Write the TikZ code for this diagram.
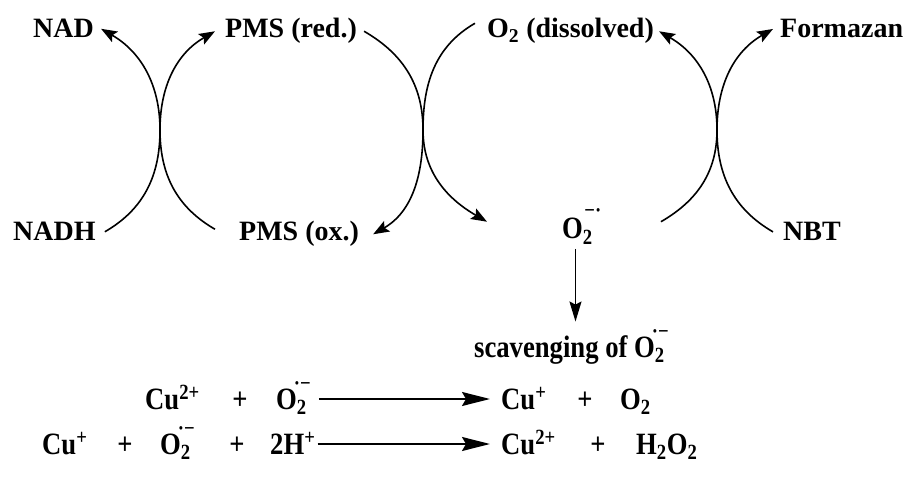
\documentclass[tikz,border=0pt]{standalone}
\usepackage{fontspec}
\setmainfont{Liberation Serif}
\newfontfamily\condfont{Liberation Serif}[FakeStretch=0.86]
\usetikzlibrary{arrows.meta}
% superoxide radical anion: O with stacked sub/superscript
\newcommand{\radO}[3]{O\rlap{\kern#1\raisebox{#2}{\textsuperscript{#3}}}\textsubscript{2}}

\begin{document}
\begin{tikzpicture}[x=1pt,y=-1pt,
    >={Stealth[length=16pt,width=12pt,inset=3pt]},
    every node/.style={font=\fontsize{28}{30}\selectfont\bfseries, inner sep=0pt},
    lbl/.style={anchor=base west},
    eq/.style={anchor=base west, font=\fontsize{31}{33}\selectfont\condfont\bfseries},
    pm/.style={eq, anchor=base},
    cyc/.style={->, line width=1.6pt},
    rxn/.style={-{Stealth[length=28pt,width=14pt,inset=4pt]}, line width=1.8pt}
  ]
  \useasboundingbox (0,0) rectangle (905,478);

  % top row
  \node[lbl] (nad)    at (33,38)  {NAD};
  \node[lbl] (pmsred) at (225,38) {PMS (red.)};
  \node[lbl] (o2d)    at (487,38) {O\textsubscript{2} (dissolved)};
  \node[lbl] (fz)     at (780,38) {Formazan};

  % bottom row
  \node[lbl] (nadh)  at (13,241)  {NADH};
  \node[lbl] (pmsox) at (239,241) {PMS (ox.)};
  \node[eq] (o2r)    at (562,239) {\radO{0.05em}{0.4em}{−·}};
  \node[lbl] (nbt)   at (783,241) {NBT};

  % crossing points
  \coordinate (xl) at (160,130);
  \coordinate (xm) at (423,130);
  \coordinate (xr) at (717,130);

  % NADH / PMS couple
  \draw[cyc] ([xshift=9pt]nadh.east) to[out=30,in=-90] (xl) to[out=90,in=-30] ([xshift=7pt]nad.east);
  \draw[cyc] ([shift={(-24pt,5pt)}]pmsox.west) to[out=150,in=-90] (xl) to[out=90,in=-150] ([xshift=-10pt]pmsred.west);

  % PMS / O2 couple
  \draw[cyc] ([xshift=7pt]pmsred.east) to[out=-30,in=90] (xm) to[out=-90,in=30] ([xshift=14pt]pmsox.east);
  \draw[cyc] ([shift={(-12pt,8pt)}]o2d.west) to[out=-150,in=90] (xm) to[out=-90,in=150] ([shift={(-75pt,5pt)}]o2r.west);

  % O2- / NBT couple
  \draw[cyc] ([shift={(68pt,5pt)}]o2r.east) to[out=30,in=-90] (xr) to[out=90,in=-30] ([xshift=5pt]o2d.east);
  \draw[cyc] ([xshift=-10pt]nbt.west) to[out=150,in=-90] (xr) to[out=90,in=-150] ([xshift=-7pt]fz.west);

  % scavenging
  \node[eq] (scav) at (474,357) {scavenging of \radO{-0.1em}{0.3em}{·−}};
  \draw[-{Stealth[length=20pt,width=12pt,inset=3pt]}, line width=1.5pt, shorten <=4pt, shorten >=8pt]
    ([xshift=-2pt]o2r.south) -- ([xshift=-2pt]o2r.south |- scav.north);

  % reaction 1
  \node[eq] (cua)  at (145,409) {Cu\textsuperscript{2+}};
  \node[pm] (pa)   at (240,409) {+};
  \node[eq] (o2a)  at (276,409) {\radO{-0.1em}{0.3em}{·−}};
  \node[eq] (cub)  at (501,409) {Cu\textsuperscript{+}};
  \node[pm] (pb)   at (585,409) {+};
  \node[eq] (o2b)  at (620,409) {O\textsubscript{2}};
  \draw[rxn] ([shift={(12pt,10pt)}]o2a.base east) -- ([shift={(-11pt,10pt)}]cub.base west);

  % reaction 2
  \node[eq] (cuc)  at (42,454)  {Cu\textsuperscript{+}};
  \node[pm] (pc)   at (125,454) {+};
  \node[eq] (o2c)  at (160,454) {\radO{-0.1em}{0.3em}{·−}};
  \node[pm] (pd)   at (237,454) {+};
  \node[eq] (hp)   at (270,454) {2H\textsuperscript{+}};
  \node[eq] (cud)  at (501,454) {Cu\textsuperscript{2+}};
  \node[pm] (pe)   at (598,454) {+};
  \node[eq] (h2o2) at (636,454) {H\textsubscript{2}O\textsubscript{2}};
  \draw[rxn] ([shift={(2pt,10pt)}]hp.base east) -- ([shift={(-11pt,10pt)}]cud.base west);
\end{tikzpicture}
\end{document}
